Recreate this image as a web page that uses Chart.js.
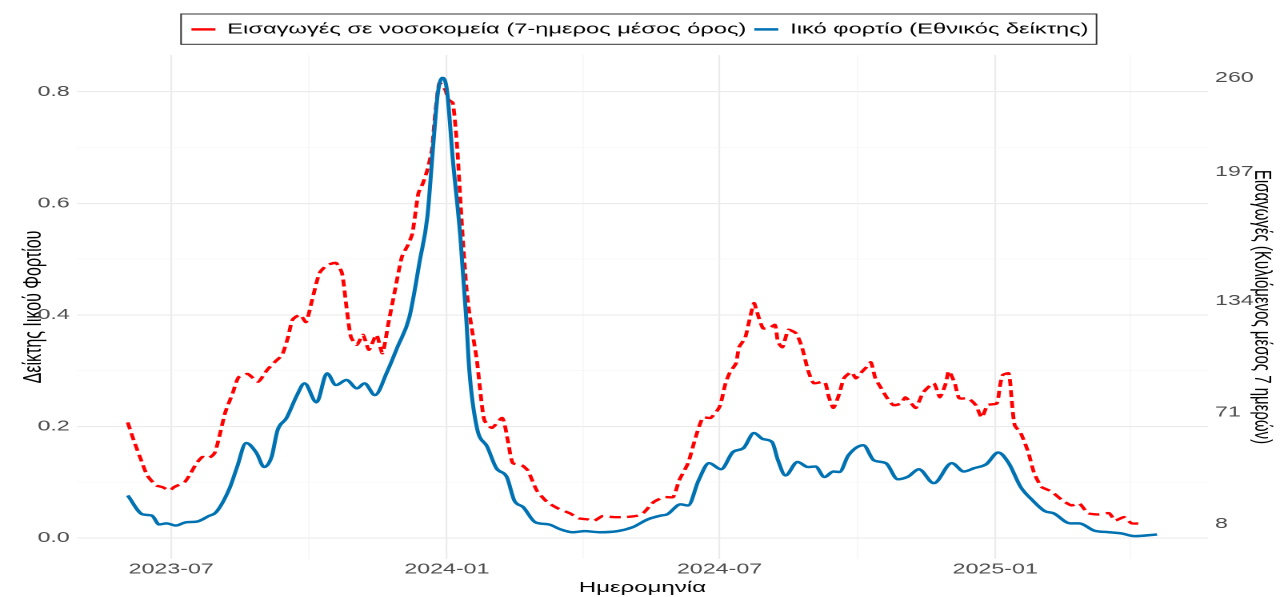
<!DOCTYPE html>
<html lang="el">
<head>
<meta charset="utf-8">
<title>Ιικό φορτίο και εισαγωγές</title>
<script src="https://cdn.jsdelivr.net/npm/chart.js@4.4.1/dist/chart.umd.min.js"></script>
<style>
  html, body { margin: 0; padding: 0; background: #fff; overflow: hidden; }
  #chart { display: block; }
</style>
</head>
<body>
<canvas id="chart" width="800" height="597" style="width:1280px;height:597px"></canvas>
<script>
// Ιικό φορτίο (εθνικός δείκτης), αριστερός άξονας
const viralDates = [
  "2023-06-02", "2023-06-12", "2023-06-18", "2023-06-23", "2023-06-28", "2023-07-04", "2023-07-11",
  "2023-07-18", "2023-07-26", "2023-07-31", "2023-08-09", "2023-08-14", "2023-08-20", "2023-08-27",
  "2023-09-01", "2023-09-06", "2023-09-10", "2023-09-16", "2023-09-23", "2023-09-28", "2023-10-06",
  "2023-10-13", "2023-10-19", "2023-10-26", "2023-11-02", "2023-11-07", "2023-11-14", "2023-11-22",
  "2023-11-29", "2023-12-07", "2023-12-14", "2023-12-19", "2023-12-23", "2023-12-26", "2023-12-29",
  "2024-01-01", "2024-01-05", "2024-01-10", "2024-01-14", "2024-01-16", "2024-01-21", "2024-01-28",
  "2024-02-03", "2024-02-10", "2024-02-15", "2024-02-21", "2024-02-29", "2024-03-09", "2024-03-17",
  "2024-03-25", "2024-04-02", "2024-04-12", "2024-04-24", "2024-05-04", "2024-05-14", "2024-05-23",
  "2024-05-27", "2024-06-05", "2024-06-10", "2024-06-17", "2024-06-24", "2024-07-02", "2024-07-10",
  "2024-07-17", "2024-07-24", "2024-07-30", "2024-08-05", "2024-08-09", "2024-08-14", "2024-08-22",
  "2024-08-29", "2024-09-03", "2024-09-09", "2024-09-15", "2024-09-19", "2024-09-25", "2024-10-05",
  "2024-10-12", "2024-10-20", "2024-10-28", "2024-11-04", "2024-11-11", "2024-11-21", "2024-12-03",
  "2024-12-11", "2024-12-18", "2024-12-26", "2025-01-03", "2025-01-10", "2025-01-18", "2025-01-26",
  "2025-02-03", "2025-02-09", "2025-02-20", "2025-02-26", "2025-03-08", "2025-03-18", "2025-03-26",
  "2025-04-04", "2025-04-19"
];
const viralValues = [
  0.076, 0.042, 0.040, 0.024, 0.026, 0.022, 0.028,
  0.029, 0.039, 0.046, 0.089, 0.127, 0.170, 0.152,
  0.127, 0.145, 0.193, 0.215, 0.256, 0.277, 0.243,
  0.295, 0.274, 0.283, 0.268, 0.277, 0.256, 0.297,
  0.342, 0.396, 0.498, 0.576, 0.708, 0.798, 0.825,
  0.804, 0.678, 0.540, 0.391, 0.300, 0.198, 0.163,
  0.125, 0.109, 0.067, 0.055, 0.028, 0.024, 0.015,
  0.010, 0.012, 0.010, 0.012, 0.019, 0.033, 0.040,
  0.042, 0.060, 0.058, 0.103, 0.134, 0.123, 0.154,
  0.161, 0.188, 0.177, 0.172, 0.139, 0.112, 0.136,
  0.127, 0.128, 0.109, 0.119, 0.118, 0.148, 0.166,
  0.139, 0.134, 0.105, 0.110, 0.123, 0.098, 0.134,
  0.119, 0.125, 0.132, 0.153, 0.134, 0.091, 0.067,
  0.048, 0.044, 0.026, 0.026, 0.013, 0.010, 0.008,
  0.003, 0.006
];

// Εισαγωγές σε νοσοκομεία, 7-ήμερος μέσος όρος (δεξιός άξονας)
const admissionDates = [
  "2023-06-02", "2023-06-06", "2023-06-11", "2023-06-15", "2023-06-21", "2023-06-25", "2023-06-30",
  "2023-07-03", "2023-07-10", "2023-07-14", "2023-07-18", "2023-07-22", "2023-07-26", "2023-07-30",
  "2023-08-02", "2023-08-06", "2023-08-11", "2023-08-15", "2023-08-21", "2023-08-28", "2023-09-03",
  "2023-09-08", "2023-09-13", "2023-09-17", "2023-09-20", "2023-09-25", "2023-09-29", "2023-10-03",
  "2023-10-08", "2023-10-13", "2023-10-19", "2023-10-23", "2023-10-26", "2023-10-29", "2023-11-02",
  "2023-11-06", "2023-11-10", "2023-11-15", "2023-11-19", "2023-11-23", "2023-11-27", "2023-12-02",
  "2023-12-06", "2023-12-09", "2023-12-13", "2023-12-16", "2023-12-19", "2023-12-22", "2023-12-24",
  "2023-12-27", "2023-12-31", "2024-01-02", "2024-01-05", "2024-01-08", "2024-01-10", "2024-01-12",
  "2024-01-14", "2024-01-16", "2024-01-21", "2024-01-23", "2024-01-26", "2024-01-31", "2024-02-07",
  "2024-02-11", "2024-02-14", "2024-02-20", "2024-02-24", "2024-03-01", "2024-03-08", "2024-03-15",
  "2024-03-23", "2024-03-29", "2024-04-04", "2024-04-08", "2024-04-14", "2024-04-21", "2024-04-29",
  "2024-05-06", "2024-05-11", "2024-05-18", "2024-05-25", "2024-05-31", "2024-06-04", "2024-06-10",
  "2024-06-15", "2024-06-20", "2024-06-25", "2024-07-01", "2024-07-05", "2024-07-08", "2024-07-12",
  "2024-07-14", "2024-07-18", "2024-07-21", "2024-07-24", "2024-07-26", "2024-07-30", "2024-08-03",
  "2024-08-07", "2024-08-09", "2024-08-12", "2024-08-16", "2024-08-21", "2024-08-25", "2024-08-29",
  "2024-09-02", "2024-09-09", "2024-09-12", "2024-09-15", "2024-09-19", "2024-09-22", "2024-09-27",
  "2024-09-30", "2024-10-03", "2024-10-07", "2024-10-10", "2024-10-13", "2024-10-17", "2024-10-21",
  "2024-10-25", "2024-10-30", "2024-11-02", "2024-11-06", "2024-11-09", "2024-11-14", "2024-11-21",
  "2024-11-25", "2024-11-29", "2024-12-01", "2024-12-05", "2024-12-08", "2024-12-14", "2024-12-19",
  "2024-12-23", "2024-12-27", "2025-01-02", "2025-01-04", "2025-01-06", "2025-01-10", "2025-01-12",
  "2025-01-14", "2025-01-18", "2025-01-23", "2025-01-27", "2025-02-01", "2025-02-06", "2025-02-09",
  "2025-02-15", "2025-02-21", "2025-02-26", "2025-03-04", "2025-03-11", "2025-03-18", "2025-03-22",
  "2025-03-28", "2025-04-02", "2025-04-09"
];
const admissionValues = [
  73.2, 63.1, 51.8, 43.3, 37.6, 36.7, 34.8,
  36.7, 39.5, 44.5, 50.2, 53.7, 53.0, 55.9,
  64.7, 78.6, 89.6, 98.7, 100.6, 96.2, 102.8,
  107.2, 111.3, 121.4, 131.2, 134.0, 129.9, 142.2,
  157.6, 162.0, 163.3, 157.6, 138.4, 121.4, 117.0,
  122.7, 114.2, 122.7, 112.3, 129.3, 146.3, 166.8,
  173.4, 180.0, 202.7, 208.3, 215.9, 227.2, 245.8,
  265.0, 261.0, 255.6, 253.7, 227.2, 198.9, 172.4,
  149.8, 135.0, 108.5, 93.4, 74.5, 70.1, 75.7,
  61.6, 50.2, 49.0, 46.1, 34.8, 28.2, 24.7,
  21.9, 19.0, 18.4, 17.5, 20.3, 19.7, 19.7,
  20.3, 21.9, 28.2, 31.0, 31.0, 40.4, 50.2,
  64.7, 76.0, 75.7, 82.0, 95.3, 101.6, 106.6,
  115.7, 120.8, 131.2, 140.6, 135.6, 126.4, 126.4,
  128.3, 118.6, 115.7, 125.5, 123.6, 115.7, 102.8,
  95.3, 96.2, 87.4, 81.4, 89.6, 98.1, 101.6,
  98.1, 100.9, 104.4, 107.2, 98.1, 92.4, 86.8,
  83.0, 83.9, 87.4, 83.9, 81.4, 90.2, 95.3,
  87.4, 95.3, 102.2, 95.3, 86.8, 86.8, 83.0,
  76.0, 83.0, 83.9, 93.0, 100.0, 100.9, 85.8,
  71.6, 67.2, 56.5, 44.5, 36.7, 34.8, 33.2,
  29.1, 26.3, 27.5, 21.9, 21.2, 21.9, 17.8,
  19.7, 16.2, 16.2
];

// άξονες
const xTickDates = ["2023-07-01", "2023-10-01", "2024-01-01", "2024-04-01", "2024-07-01", "2024-10-01", "2025-01-01", "2025-04-01"];
const xTickLabels = ["2023-07", "", "2024-01", "", "2024-07", "", "2025-01", ""];
const yTicks = [0, 0.1, 0.2, 0.3, 0.4, 0.5, 0.6, 0.7, 0.8];
const yTickLabels = ["0.0", "", "0.2", "", "0.4", "", "0.6", "", "0.8"];
const y2Ticks = [8, 71, 134, 197, 260];

const xMin = "2023-04-29";
const xMax = "2025-05-23";
const yMin = -0.038;
const yMax = 0.866;
// δεξιός άξονας = 8 + 315 * αριστερός
const secOffset = 8;
const secScale = 315;

const FONT = "'Liberation Sans', Arial, sans-serif";
const toPoints = (dates, values) => dates.map((d, i) => ({ x: Date.parse(d), y: values[i] }));

// στο πρωτότυπο η ετικέτα 197 κάθεται μια γραμμή ψηλότερα
const y2Label = (value) => (value === 197 ? [String(value), "", ""] : String(value));

const legendFrame = {
  id: "legendFrame",
  afterInit(chart) {
    const fit = chart.legend.fit;
    chart.legend.fit = function () {
      fit.call(this);
      this.height = 38;
    };
  },
  afterDraw(chart) {
    const boxes = chart.legend && chart.legend.legendHitBoxes;
    if (!boxes || !boxes.length) return;
    const left = Math.min(...boxes.map((b) => b.left)) - 6.5;
    const right = Math.max(...boxes.map((b) => b.left + b.width)) + 5;
    const top = boxes[0].top - 8;
    const bottom = boxes[0].top + boxes[0].height + 7.5;
    const c = chart.ctx;
    c.save();
    c.strokeStyle = "#333333";
    c.lineWidth = 1;
    c.strokeRect(left, top, right - left, bottom - top);
    c.restore();
  }
};

const gridMajor = "#EBEBEB";
const gridMinor = "#F3F3F3";

new Chart(document.getElementById("chart"), {
  type: "line",
  data: {
    datasets: [
      {
        label: "Εισαγωγές σε νοσοκομεία (7-ημερος μέσος όρος)",
        data: toPoints(admissionDates, admissionValues),
        yAxisID: "y2",
        borderColor: "#FF0000",
        borderWidth: 2.4,
        borderDash: [7, 4],
        pointRadius: 0,
        tension: 0.2,
        order: 1
      },
      {
        label: "Ιικό φορτίο (Εθνικός δείκτης)",
        data: toPoints(viralDates, viralValues),
        yAxisID: "y",
        borderColor: "#0072B2",
        borderWidth: 2.5,
        pointRadius: 0,
        cubicInterpolationMode: "monotone",
        order: 0
      }
    ]
  },
  options: {
    responsive: false,
    devicePixelRatio: 2,
    animation: false,
    events: [],
    layout: { padding: { top: 17, right: 0, bottom: 0, left: 0 } },
    plugins: {
      tooltip: { enabled: false },
      legend: {
        position: "top",
        labels: {
          font: { family: FONT, size: 14.8 },
          color: "#000000",
          padding: 5,
          usePointStyle: true,
          pointStyle: "line",
          pointStyleWidth: 15,
          sort: (a, b) => a.datasetIndex - b.datasetIndex
        }
      }
    },
    scales: {
      x: {
        type: "linear",
        min: Date.parse(xMin),
        max: Date.parse(xMax),
        afterBuildTicks: (scale) => {
          scale.ticks = xTickDates.map((d) => ({ value: Date.parse(d) }));
        },
        afterFit: (scale) => { scale.height = 38; },
        ticks: {
          autoSkip: false,
          maxRotation: 0,
          minRotation: 0,
          padding: 2,
          color: "#4D4D4D",
          font: { family: FONT, size: 14.5 },
          callback: (value, index) => xTickLabels[index]
        },
        grid: {
          drawTicks: false,
          color: (c) => (xTickLabels[c.index] ? gridMajor : gridMinor),
          lineWidth: (c) => (xTickLabels[c.index] ? 1.1 : 0.6)
        },
        border: { display: false },
        title: {
          display: true,
          text: "Ημερομηνία",
          color: "#000000",
          font: { family: FONT, size: 15 },
          padding: { top: 0, bottom: 0 }
        }
      },
      y: {
        position: "left",
        min: yMin,
        max: yMax,
        afterBuildTicks: (scale) => {
          scale.ticks = yTicks.map((v) => ({ value: v }));
        },
        afterFit: (scale) => { scale.width = 48; },
        ticks: {
          padding: 4.4,
          color: "#4D4D4D",
          font: { family: FONT, size: 14.5 },
          callback: (value, index) => yTickLabels[index]
        },
        grid: {
          drawTicks: false,
          color: (c) => (yTickLabels[c.index] ? gridMajor : gridMinor),
          lineWidth: (c) => (yTickLabels[c.index] ? 1.1 : 0.6)
        },
        border: { display: false },
        title: {
          display: true,
          text: "Δείκτης Ιικού Φορτίου",
          color: "#000000",
          font: { family: FONT, size: 16 },
          padding: { top: 11.5, bottom: 0 }
        }
      },
      y2: {
        position: "right",
        min: secOffset + secScale * yMin,
        max: secOffset + secScale * yMax,
        afterBuildTicks: (scale) => {
          scale.ticks = y2Ticks.map((v) => ({ value: v }));
        },
        afterFit: (scale) => { scale.width = 45; },
        ticks: {
          padding: 4.4,
          labelOffset: -14,
          color: "#4D4D4D",
          font: { family: FONT, size: 14.5 },
          callback: y2Label
        },
        grid: { display: false, drawTicks: false },
        border: { display: false },
        title: {
          display: true,
          text: "Εισαγωγές (Κυλιόμενος μέσος 7 ημερών)",
          color: "#000000",
          font: { family: FONT, size: 15 },
          padding: { top: 2.5, bottom: 0 }
        }
      }
    }
  },
  plugins: [legendFrame]
});
</script>
</body>
</html>
